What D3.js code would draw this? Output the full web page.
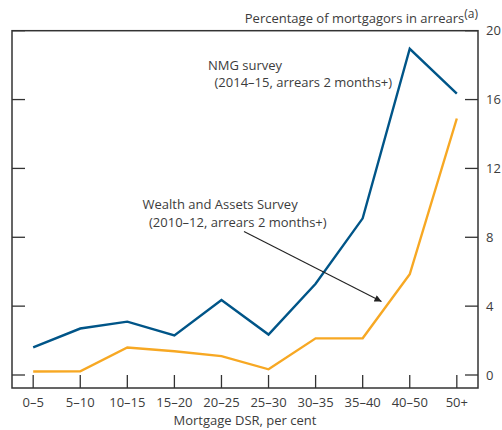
<!DOCTYPE html>
<html>
<head>
<meta charset="utf-8">
<script src="https://cdn.jsdelivr.net/npm/d3@7"></script>
<style>
  html, body { margin: 0; padding: 0; background: #fff; }
  svg { display: block; font-family: "Open Sans", "Noto Sans", sans-serif; }
</style>
</head>
<body>
<svg id="chart" width="502" height="430"></svg>
<script>
// 資料：DSR 區間與兩條調查序列（百分比）
const categories = ['0–5', '5–10', '10–15', '15–20', '20–25', '25–30', '30–35', '35–40', '40–50', '50+'];
const nmgValues = [1.6, 2.7, 3.1, 2.3, 4.35, 2.35, 5.3, 9.1, 18.95, 16.35];
const wasValues = [0.2, 0.22, 1.6, 1.38, 1.1, 0.33, 2.13, 2.13, 5.85, 14.9];
const yTicks = [0, 4, 8, 12, 16, 20];

const svg = d3.select('#chart');
const box = { left: 12, right: 478, top: 30.7, bottom: 388 };
const textColor = '#3c3c3c';
const axisColor = '#333';

const x = d3.scalePoint().domain(categories).range([box.left, box.right]).padding(0.45);
const y = d3.scaleLinear().domain([0, 20]).range([375, 30.7]);

// 外框
svg.append('rect')
  .attr('x', box.left).attr('y', box.top)
  .attr('width', box.right - box.left).attr('height', box.bottom - box.top)
  .attr('fill', 'none').attr('stroke', axisColor).attr('stroke-width', 1.5);

// y 軸刻度（左右兩側內向）
const gy = svg.append('g');
gy.selectAll('line.l').data(yTicks).join('line')
  .attr('x1', box.left).attr('x2', box.left + 13)
  .attr('y1', (d) => y(d)).attr('y2', (d) => y(d))
  .attr('stroke', axisColor).attr('stroke-width', 1.3);
gy.selectAll('line.r').data(yTicks).join('line')
  .attr('x1', box.right - 13).attr('x2', box.right)
  .attr('y1', (d) => y(d)).attr('y2', (d) => y(d))
  .attr('stroke', axisColor).attr('stroke-width', 1.3);
gy.selectAll('text').data(yTicks).join('text')
  .attr('x', 486).attr('y', (d) => y(d)).attr('dy', '0.35em')
  .attr('fill', textColor).attr('font-size', 13)
  .text((d) => d);

// x 軸刻度（由底部向上）
const gx = svg.append('g');
gx.selectAll('line').data(categories).join('line')
  .attr('x1', (d) => x(d)).attr('x2', (d) => x(d))
  .attr('y1', box.bottom).attr('y2', box.bottom - 13)
  .attr('stroke', axisColor).attr('stroke-width', 1.3);
gx.selectAll('text').data(categories).join('text')
  .attr('x', (d) => x(d)).attr('y', 407)
  .attr('text-anchor', 'middle')
  .attr('fill', textColor).attr('font-size', 13)
  .text((d) => d);

svg.append('text')
  .attr('x', 245).attr('y', 425).attr('text-anchor', 'middle')
  .attr('fill', textColor).attr('font-size', 13)
  .text('Mortgage DSR, per cent');

// 右上軸標題
const title = svg.append('text')
  .attr('x', 478).attr('y', 22.5).attr('text-anchor', 'end')
  .attr('fill', textColor).attr('font-size', 13);
title.append('tspan').text('Percentage of mortgagors in arrears');
title.append('tspan').attr('dy', -5).attr('font-size', 12).text('(a)');

// 線
const line = d3.line().x((d, i) => x(categories[i])).y((d) => y(d));
svg.append('path').datum(wasValues)
  .attr('d', line).attr('fill', 'none')
  .attr('stroke', '#F7A823').attr('stroke-width', 2.4).attr('stroke-linejoin', 'miter');
svg.append('path').datum(nmgValues)
  .attr('d', line).attr('fill', 'none')
  .attr('stroke', '#005588').attr('stroke-width', 2.4).attr('stroke-linejoin', 'miter');

// 註解
svg.append('defs').append('marker')
  .attr('id', 'arrow').attr('viewBox', '0 0 10 10')
  .attr('refX', 10).attr('refY', 5)
  .attr('markerWidth', 9).attr('markerHeight', 7)
  .attr('markerUnits', 'userSpaceOnUse')
  .attr('orient', 'auto')
  .append('path').attr('d', 'M0,0 L10,5 L0,10 Z').attr('fill', '#222');

const notes = [
  { x: 208, y: 69.5, text: 'NMG survey' },
  { x: 214.5, y: 87, text: '(2014–15, arrears 2 months+)' },
  { x: 142.5, y: 208.5, text: 'Wealth and Assets Survey' },
  { x: 149, y: 226.5, text: '(2010–12, arrears 2 months+)' },
];
svg.append('g').selectAll('text').data(notes).join('text')
  .attr('x', (d) => d.x).attr('y', (d) => d.y)
  .attr('fill', textColor).attr('font-size', 13)
  .text((d) => d.text);

svg.append('line')
  .attr('x1', 244).attr('y1', 231.5).attr('x2', 381.5).attr('y2', 301.5)
  .attr('stroke', '#222').attr('stroke-width', 1.1)
  .attr('marker-end', 'url(#arrow)');
</script>
</body>
</html>
